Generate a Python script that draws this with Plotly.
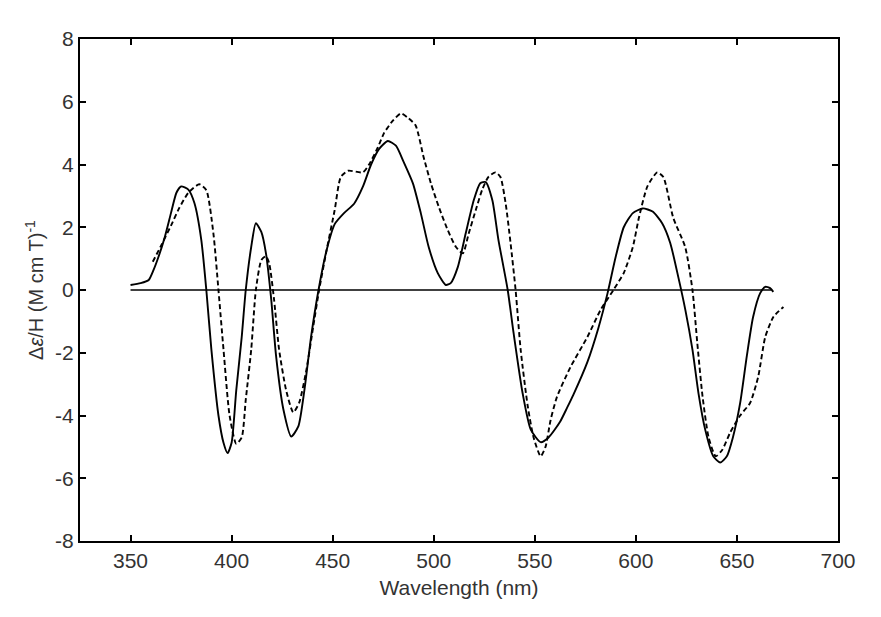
import plotly.graph_objects as go

# solid curve (wavelength nm, delta-eps/H)
solid_wl = [350, 355, 359, 361.4, 363.8, 367, 370, 372.7, 375, 378.6, 381.6, 385, 387.5,
            390, 393.5, 396, 398, 400, 402.3, 405, 407, 409.7, 412, 414.7, 417, 419.6,
            422, 425.6, 429.5, 433, 436, 439.3, 443, 447, 451, 455.6, 460.6, 465, 469,
            473, 477.3, 481.3, 485, 489.7, 493.6, 497.5, 502, 506, 508.4, 511.9, 515.8,
            519.8, 523, 525.7, 529, 532, 536.6, 539.5, 544, 548, 552.9, 556.8, 562.5,
            566, 569, 576, 581.5, 586, 590, 594, 598.5, 603.4, 608.3, 613, 617, 621,
            624.5, 628, 631, 634.3, 638.3, 641.7, 645, 648, 651.6, 654.9, 658, 661.5,
            664, 666.4, 668]
solid_val = [0.16, 0.22, 0.32, 0.64, 1.05, 1.7, 2.45, 3.1, 3.3, 3.2, 2.77, 1.6, 0.0,
             -1.9, -4.0, -4.87, -5.2, -4.87, -3.2, -1.5, 0.0, 1.37, 2.13, 1.85, 1.17, -0.3,
             -2.1, -3.8, -4.67, -4.35, -3.2, -1.5, 0.0, 1.27, 2.1, 2.45, 2.75, 3.3, 4.0,
             4.5, 4.75, 4.6, 4.1, 3.4, 2.45, 1.37, 0.54, 0.16, 0.22, 0.73, 1.8,
             2.86, 3.4, 3.44, 2.86, 1.6, 0.0, -1.37, -3.3, -4.45, -4.85, -4.7, -4.2,
             -3.75, -3.35, -2.3, -1.2, -0.1, 1.05, 2.0, 2.45, 2.6, 2.5, 2.13, 1.5, 0.41,
             -0.64, -1.9, -3.3, -4.45, -5.3, -5.5, -5.3, -4.7, -3.6, -2.1, -0.86, -0.1,
             0.1, 0.06, -0.06]

# dashed curve
dashed_wl = [361, 365, 370, 374, 378.6, 384, 387.5, 391, 393.5, 396, 399, 402.3, 405,
             407, 409.7, 412, 414.7, 417, 418.6, 421, 423.5, 427, 430.5, 433.4, 437,
             440.3, 443.3, 447, 451, 454, 457.6, 465, 468, 472.4, 475.4, 479.8, 483.8,
             487, 491, 495, 498.6, 502.5, 507, 511, 514.4, 517.3, 520.8, 524, 527,
             530.6, 533, 535.6, 538, 540.5, 543, 546.5, 549.4, 552.9, 555.3, 557.8,
             561, 567.7, 576, 582.5, 588.9, 594, 598.5, 601.5, 605.7, 610.6, 613.6,
             618.5, 624.4, 628, 630.4, 633, 636, 639.5, 642.7, 646.6, 651.6, 656.5,
             660.5, 664, 668, 673]
dashed_val = [0.9, 1.4, 2.05, 2.6, 3.1, 3.37, 3.18, 1.8, 0.0, -1.9, -4.0, -4.9, -4.7,
              -3.5, -1.9, 0.0, 0.95, 1.08, 0.85, -0.3, -1.9, -3.2, -3.9, -3.6, -2.55,
              -1.2, 0.0, 1.27, 2.55, 3.6, 3.8, 3.75, 4.0, 4.55, 5.0, 5.4, 5.63,
              5.5, 5.25, 4.23, 3.4, 2.65, 1.9, 1.37, 1.17, 1.8, 2.55, 3.2, 3.6,
              3.75, 3.6, 2.75, 1.5, 0.0, -1.9, -3.7, -4.7, -5.3, -5.0, -4.15,
              -3.4, -2.45, -1.5, -0.64, 0.0, 0.54, 1.37, 2.3, 3.3, 3.75, 3.6,
              2.3, 1.37, 0.0, -1.7, -3.4, -4.7, -5.3, -5.1, -4.55, -4.0, -3.6,
              -2.77, -1.5, -0.86, -0.54]

# zero baseline
zero_wl = [350, 667]
zero_val = [0, 0]

x_ticks = [350, 400, 450, 500, 550, 600, 650, 700]
y_ticks = [-8, -6, -4, -2, 0, 2, 4, 6, 8]
y_ticktext = ['-8', '-6', '-4', '-2', '0', '2', '4', '6', '8']

FONT = 'Liberation Sans, Arial'
TXT = '#333333'

fig = go.Figure()
fig.add_trace(go.Scatter(x=zero_wl, y=zero_val, mode='lines',
                         line=dict(color='black', width=1.5), showlegend=False))
fig.add_trace(go.Scatter(x=dashed_wl, y=dashed_val, mode='lines',
                         line=dict(color='black', width=1.9, dash='5px,3px', shape='spline', smoothing=0.6),
                         showlegend=False))
fig.add_trace(go.Scatter(x=solid_wl, y=solid_val, mode='lines',
                         line=dict(color='black', width=1.9, shape='spline', smoothing=0.6),
                         showlegend=False))

axis_common = dict(showline=True, linecolor='black', linewidth=2, mirror='ticks',
                   ticks='inside', ticklen=6, tickwidth=1.5, tickcolor='black',
                   showgrid=False, zeroline=False,
                   tickfont=dict(family=FONT, size=21, color=TXT))

# the page body adds an 8px offset, so margins are shifted to compensate
fig.update_layout(
    width=881, height=617,
    margin=dict(l=72, r=51, t=31, b=84),
    plot_bgcolor='white', paper_bgcolor='white',
    xaxis=dict(range=[325, 700], tickvals=x_ticks,
               title=dict(text='Wavelength (nm)', standoff=9,
                          font=dict(family=FONT, size=21, color=TXT)),
               **axis_common),
    yaxis=dict(range=[-8, 8], tickvals=y_ticks, ticktext=y_ticktext,
               title=dict(text='Δ<i>ε</i>/H (M cm T)<sup>-1</sup>', standoff=6,
                          font=dict(family=FONT, size=20, color=TXT)),
               **axis_common),
)

fig.write_html("out.html")
